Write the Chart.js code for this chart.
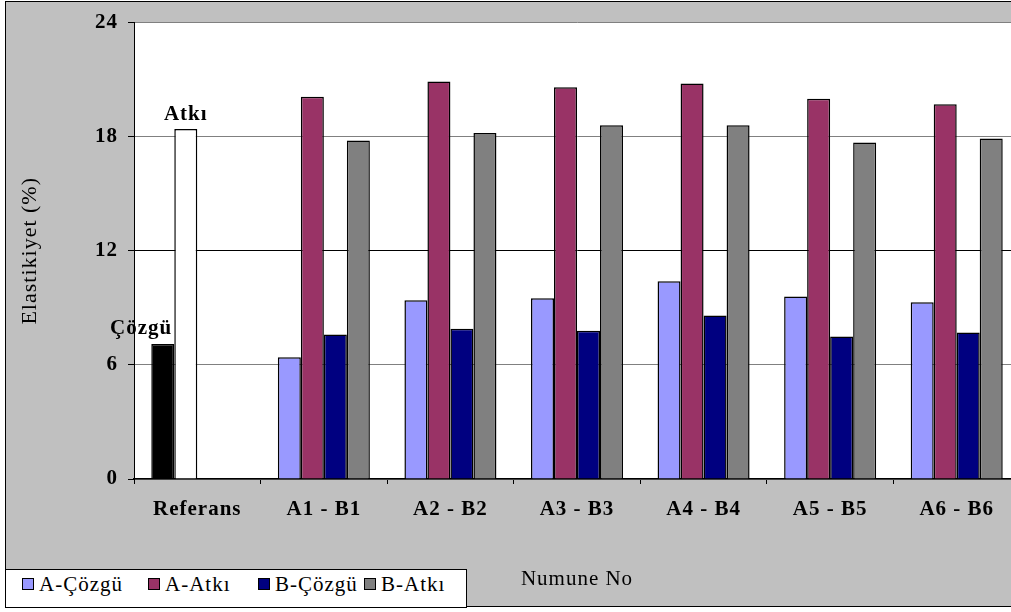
<!DOCTYPE html>
<html>
<head>
<meta charset="utf-8">
<script src="https://cdn.jsdelivr.net/npm/chart.js@4/dist/chart.umd.min.js"></script>
<style>
  html, body { margin: 0; padding: 0; background: #fff; overflow: hidden; }
  #wrap { position: relative; width: 1011px; height: 612px; overflow: hidden; }
  #frame {
    position: absolute; left: 5px; top: 1px; width: 1100px; height: 604px;
    background: #c0c0c0; border: 1px solid #000;
  }
  #elastChart { position: absolute; left: 0; top: 0; }
  #legend {
    position: absolute; left: 5px; top: 569px; width: 460px; height: 37px;
    background: #fff; border: 1px solid #000;
    font: 21px 'Times New Roman', 'Liberation Serif', serif; letter-spacing: 1px;
  }
  #legend .item { position: absolute; top: 4px; line-height: 21px; white-space: nowrap; }
  #legend .box {
    display: inline-block; width: 10px; height: 10px; border: 1px solid #000;
    margin-right: 5px; vertical-align: 1px;
  }
</style>
</head>
<body>
<div id="wrap">
  <div id="frame"></div>
  <canvas id="elastChart" width="1030" height="612"></canvas>
  <div id="legend"></div>
</div>
<script>
// numune gruplari
const categories = ['Referans', 'A1 - B1', 'A2 - B2', 'A3 - B3', 'A4 - B4', 'A5 - B5', 'A6 - B6'];

// referans kumas (cozgu / atki)
const refLabels = ['Çözgü', 'Atkı'];
const refValues = [7.1, 18.4];

// A ve B numuneleri, elastikiyet (%)
const aCozgu = [6.4, 9.4, 9.5, 10.4, 9.6, 9.3];
const aAtki  = [20.1, 20.9, 20.6, 20.8, 20.0, 19.7];
const bCozgu = [7.6, 7.9, 7.8, 8.6, 7.5, 7.7];
const bAtki  = [17.8, 18.2, 18.6, 18.6, 17.7, 17.9];

const seriesNames  = ['A-Çözgü', 'A-Atkı', 'B-Çözgü', 'B-Atkı'];
const seriesColors = ['#9999ff', '#993366', '#000080', '#808080'];
const refColors    = ['#000000', '#ffffff'];

const yTicks = [0, 6, 12, 18, 24];

const serif = "'Times New Roman', 'Liberation Serif', serif";

// referans degerleri ilk iki serinin ilk kategorisine yerlesiyor
const seriesData = [
  [refValues[0], ...aCozgu],
  [refValues[1], ...aAtki],
  [null, ...bCozgu],
  [null, ...bAtki]
];

const datasets = seriesNames.map((name, i) => ({
  label: name,
  data: seriesData[i],
  backgroundColor: seriesData[i].map((v, j) => (j === 0 && i < 2) ? refColors[i] : seriesColors[i]),
  borderColor: '#000',
  borderWidth: 1.5,
  borderSkipped: 'start',
  categoryPercentage: 0.727,
  barPercentage: 1.0
}));

const plotBackground = {
  id: 'plotBackground',
  beforeDraw(chart) {
    const { ctx, chartArea: a } = chart;
    ctx.letterSpacing = '1px';
    ctx.save();
    ctx.fillStyle = '#fff';
    ctx.fillRect(a.left, a.top, a.right - a.left, a.bottom - a.top);
    ctx.restore();
  }
};

// "Çözgü" / "Atkı" etiketleri referans sutunlarinin ustune
const refLabelPlugin = {
  id: 'refLabels',
  afterDatasetsDraw(chart) {
    const { ctx } = chart;
    ctx.save();
    ctx.font = 'bold 21px ' + serif;
    ctx.fillStyle = '#000';
    ctx.textBaseline = 'alphabetic';
    const cz = chart.getDatasetMeta(0).data[0];
    ctx.textAlign = 'right';
    ctx.fillText(refLabels[0], cz.x + cz.width / 2 - 2, cz.y - 10);
    const at = chart.getDatasetMeta(1).data[0];
    ctx.textAlign = 'center';
    ctx.fillText(refLabels[1], at.x, at.y - 9);
    ctx.restore();
  }
};

new Chart(document.getElementById('elastChart'), {
  type: 'bar',
  data: { labels: categories, datasets },
  options: {
    responsive: false,
    animation: false,
    devicePixelRatio: 1,
    layout: { padding: { left: 0, top: 20, right: 10, bottom: 0 } },
    plugins: {
      legend: { display: false },
      tooltip: { enabled: false }
    },
    scales: {
      x: {
        afterFit(scale) { scale.height = 133; },
        grid: {
          display: true, drawOnChartArea: false, drawTicks: true,
          tickLength: 5, tickColor: '#000', offset: true
        },
        border: { color: '#000', width: 1.5 },
        ticks: {
          color: '#000', padding: 13,
          font: { family: serif, size: 21, weight: 'bold' }
        },
        title: {
          display: true, text: 'Numune No', color: '#000',
          font: { family: serif, size: 21 },
          padding: { top: 0, bottom: 20 }
        }
      },
      y: {
        min: 0, max: 24,
        afterFit(scale) { scale.width = 134; },
        afterBuildTicks(scale) { scale.ticks = yTicks.map(v => ({ value: v })); },
        grid: {
          color: ctx => (ctx.tick && ctx.tick.value === 12) ? '#000' : '#808080',
          lineWidth: 1, tickLength: 6, tickColor: '#000'
        },
        border: { color: '#000', width: 1 },
        ticks: {
          color: '#000', padding: 10,
          font: { family: serif, size: 21, weight: 'bold' }
        },
        title: {
          display: true, text: 'Elastikiyet (%)', color: '#000',
          font: { family: serif, size: 22 },
          padding: { top: 17, bottom: 0 }
        }
      }
    }
  },
  plugins: [plotBackground, refLabelPlugin]
});

// lejant
const legendLeft = [21, 147, 257, 363];
const legend = document.getElementById('legend');
seriesNames.forEach((name, i) => {
  const item = document.createElement('span');
  item.className = 'item';
  item.style.left = (legendLeft[i] - 5) + 'px';
  const box = document.createElement('span');
  box.className = 'box';
  box.style.background = seriesColors[i];
  item.appendChild(box);
  item.appendChild(document.createTextNode(name));
  legend.appendChild(item);
});
</script>
</body>
</html>
